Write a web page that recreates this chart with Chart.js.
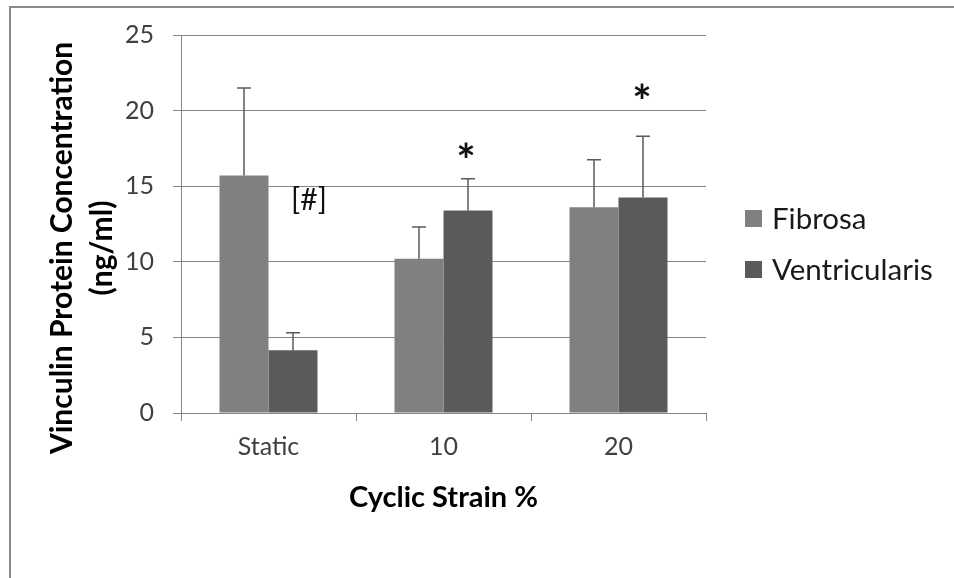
<!DOCTYPE html>
<html>
<head>
<meta charset="utf-8">
<script src="https://cdn.jsdelivr.net/npm/chart.js@4.4.1/dist/chart.umd.min.js"></script>
<style>
  html, body { margin: 0; padding: 0; background: #fff; }
  #wrap { position: relative; width: 954px; height: 578px; }
  #frame { position: absolute; left: 9px; top: 6px; right: 0; bottom: 0;
           border-top: 2px solid #8a8a8a; border-left: 2px solid #8a8a8a; }
  #chart { position: absolute; left: 0; top: 0; }
</style>
</head>
<body>
<div id="wrap">
  <div id="frame"></div>
  <canvas id="chart" width="954" height="578"></canvas>
</div>
<script>
// données
const categories = ['Static', '10', '20'];
const fibrosa = [15.7, 10.2, 13.6];
const fibrosaErr = [5.8, 2.1, 3.15];
const ventricularis = [4.15, 13.4, 14.25];
const ventricularisErr = [1.15, 2.1, 4.05];
const yMin = 0, yMax = 25, yStep = 5;

// annotations: texte, catégorie, série, niveau
const markText = ['[#]', '*', '*'];
const markCat = [0, 1, 2];
const markSeries = [1, 1, 1];
const markValue = [14.1, 17.4, 21.3];

const FONT = 'Lato, "Open Sans", sans-serif';
const GRID = '#868686';
const markDx = [16, -2, -1]; // décalage horizontal (style)

const decor = {
    id: 'decor',
    afterDatasetsDraw(chart) {
        const ctx = chart.ctx;
        const y = chart.scales.y;
        const errs = [fibrosaErr, ventricularisErr];
        ctx.save();
        ctx.strokeStyle = '#5a5a5a';
        ctx.lineWidth = 1.5;
        chart.data.datasets.forEach((ds, di) => {
            const meta = chart.getDatasetMeta(di);
            meta.data.forEach((bar, i) => {
                const top = y.getPixelForValue(ds.data[i] + errs[di][i]);
                ctx.beginPath();
                ctx.moveTo(bar.x, bar.y);
                ctx.lineTo(bar.x, top);
                ctx.moveTo(bar.x - 7, top);
                ctx.lineTo(bar.x + 7, top);
                ctx.stroke();
            });
        });
        // annotations
        ctx.fillStyle = '#111';
        markText.forEach((t, k) => {
            const bar = chart.getDatasetMeta(markSeries[k]).data[markCat[k]];
            ctx.font = t === '*' ? 'bold 46px ' + FONT : '30px ' + FONT;
            const m = ctx.measureText(t);
            const h = m.actualBoundingBoxAscent - m.actualBoundingBoxDescent;
            ctx.textAlign = 'center';
            ctx.textBaseline = 'alphabetic';
            ctx.fillText(t, bar.x + markDx[k], y.getPixelForValue(markValue[k]) + h / 2);
        });
        ctx.restore();
    },
    afterDraw(chart) {
        const ctx = chart.ctx;
        const area = chart.chartArea;
        ctx.save();
        // titre axe Y sur deux lignes
        ctx.translate(62, 248);
        ctx.rotate(-Math.PI / 2);
        ctx.fillStyle = '#000';
        ctx.font = 'bold 30px ' + FONT;
        ctx.textAlign = 'center';
        ctx.textBaseline = 'middle';
        ctx.fillText('Vinculin Protein Concentration', 0, 0);
        ctx.fillText('(ng/ml)', 0, 40);
        ctx.restore();

        // légende
        ctx.save();
        const names = chart.data.datasets.map(d => d.label);
        const colors = chart.data.datasets.map(d => d.backgroundColor);
        const cy = (area.top + area.bottom) / 2 + 20;
        ctx.font = '29.5px ' + FONT;
        ctx.textBaseline = 'middle';
        ctx.textAlign = 'left';
        names.forEach((n, i) => {
            const yy = cy + (i - 0.5) * 51;
            ctx.fillStyle = colors[i];
            ctx.fillRect(area.right + 39, yy - 8.5, 17, 17);
            ctx.fillStyle = '#1a1a1a';
            ctx.fillText(n, area.right + 66, yy + 1);
        });
        ctx.restore();
    }
};

new Chart(document.getElementById('chart'), {
    type: 'bar',
    data: {
        labels: categories,
        datasets: [{
            label: 'Fibrosa',
            data: fibrosa,
            backgroundColor: '#808080'
        }, {
            label: 'Ventricularis',
            data: ventricularis,
            backgroundColor: '#5a5a5a'
        }]
    },
    options: {
        responsive: false,
        animation: false,
        layout: { padding: { top: 35, right: 248, left: 0, bottom: 0 } },
        datasets: { bar: { categoryPercentage: 0.56, barPercentage: 1 } },
        scales: {
            x: {
                afterFit: s => { s.height = 165; },
                grid: { display: true, drawOnChartArea: false, offset: true, tickLength: 8, color: GRID },
                border: { color: GRID, width: 1 },
                ticks: { padding: 11, color: '#404040', font: { family: FONT, size: 25 } },
                title: {
                    display: true,
                    text: 'Cyclic Strain %',
                    color: '#000',
                    font: { family: FONT, size: 29, weight: 'bold' },
                    padding: { top: 0, bottom: 63 }
                }
            },
            y: {
                min: yMin,
                max: yMax,
                afterFit: s => { s.width = 181; },
                grid: { color: GRID, tickLength: 8 },
                border: { color: GRID, width: 1 },
                ticks: { stepSize: yStep, padding: 19, color: '#404040', font: { family: FONT, size: 25 } }
            }
        },
        plugins: {
            legend: { display: false },
            tooltip: { enabled: false }
        }
    },
    plugins: [decor]
});
</script>
</body>
</html>
